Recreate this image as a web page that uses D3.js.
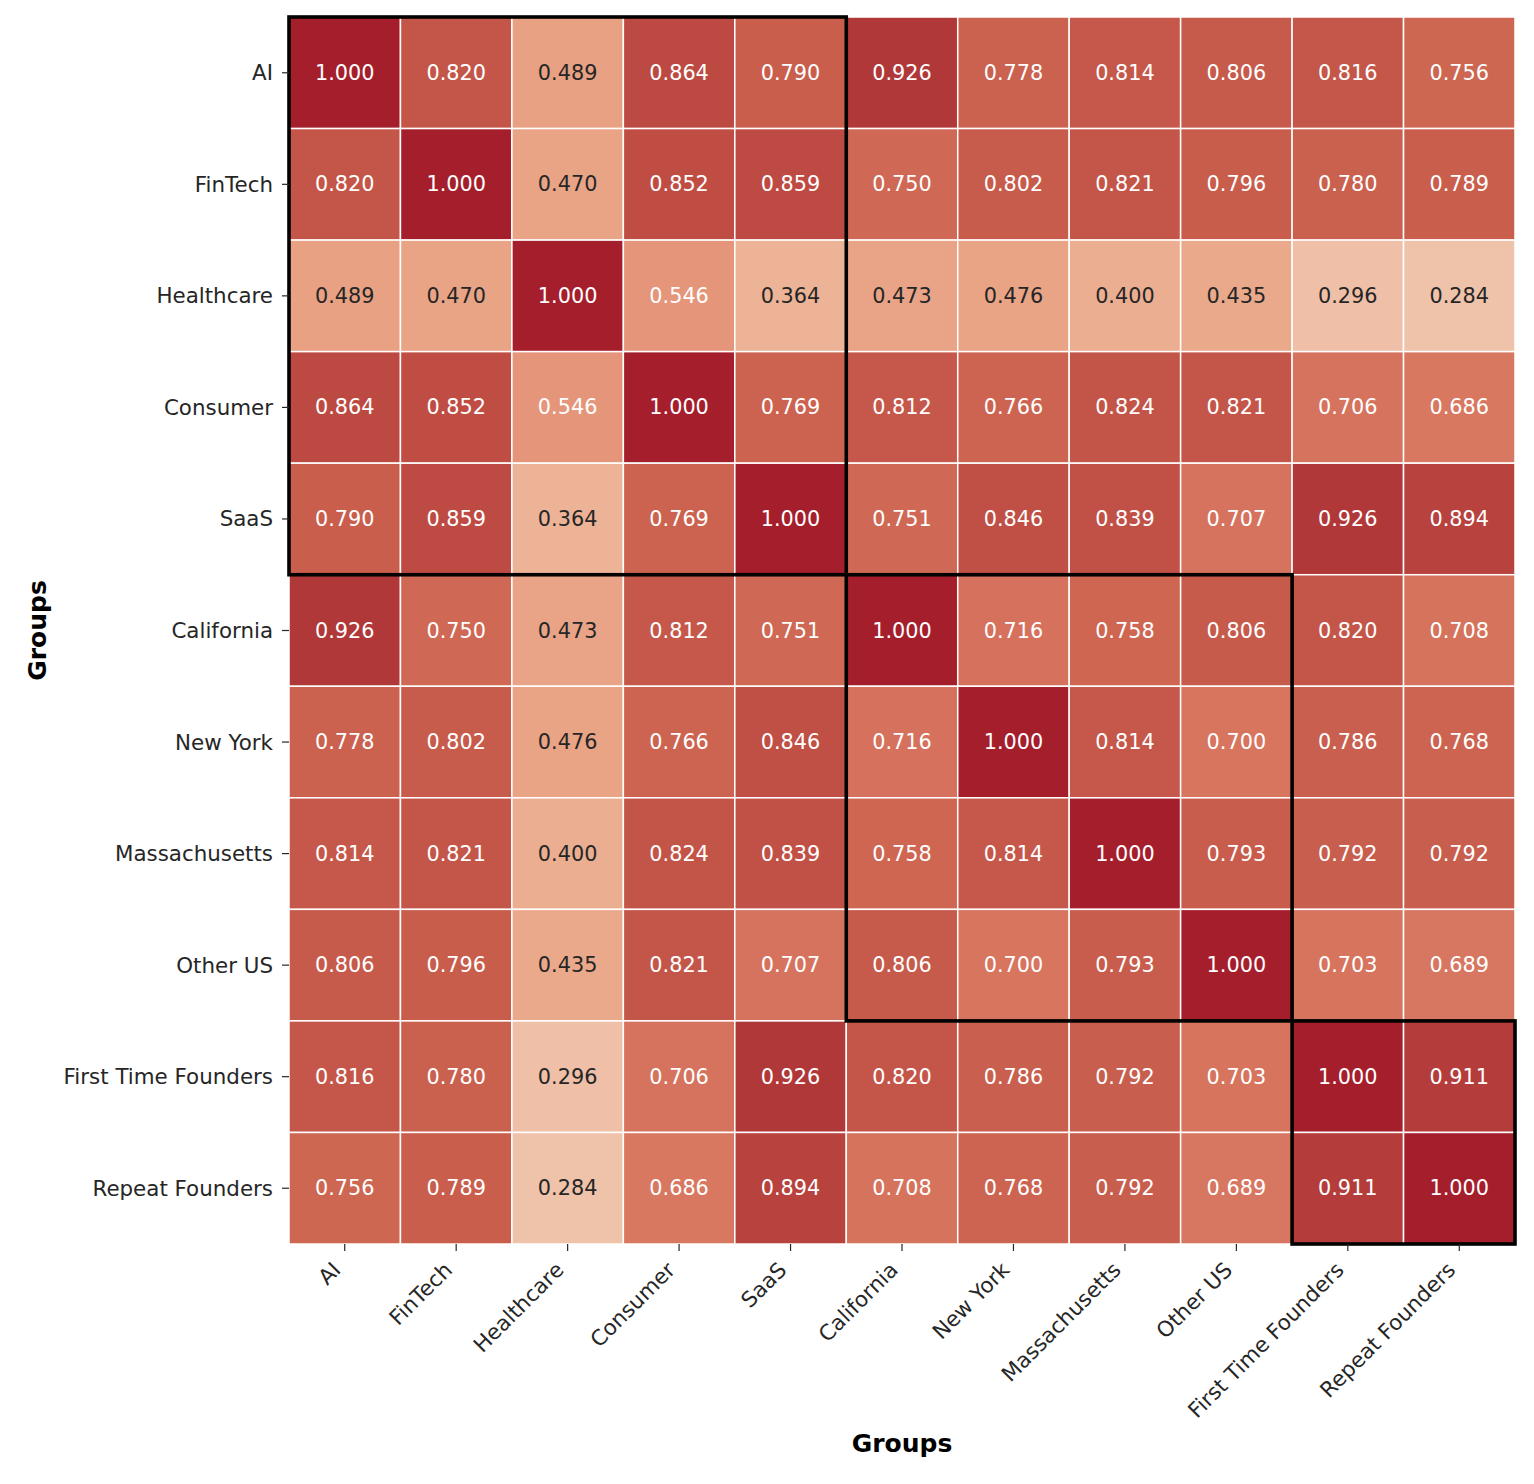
<!DOCTYPE html>
<html>
<head>
<meta charset="utf-8">
<script src="https://cdn.jsdelivr.net/npm/d3@7"></script>
<style>
  html, body { margin: 0; padding: 0; background: #ffffff; }
  svg { display: block; }
  text { font-family: "DejaVu Sans", sans-serif; }
</style>
</head>
<body>
<svg id="chart" width="1534" height="1484"></svg>
<script>
// ---------- data ----------
const groups = ["AI", "FinTech", "Healthcare", "Consumer", "SaaS", "California",
  "New York", "Massachusetts", "Other US", "First Time Founders", "Repeat Founders"];

const rowAI            = [1.000, 0.820, 0.489, 0.864, 0.790, 0.926, 0.778, 0.814, 0.806, 0.816, 0.756];
const rowFinTech       = [0.820, 1.000, 0.470, 0.852, 0.859, 0.750, 0.802, 0.821, 0.796, 0.780, 0.789];
const rowHealthcare    = [0.489, 0.470, 1.000, 0.546, 0.364, 0.473, 0.476, 0.400, 0.435, 0.296, 0.284];
const rowConsumer      = [0.864, 0.852, 0.546, 1.000, 0.769, 0.812, 0.766, 0.824, 0.821, 0.706, 0.686];
const rowSaaS          = [0.790, 0.859, 0.364, 0.769, 1.000, 0.751, 0.846, 0.839, 0.707, 0.926, 0.894];
const rowCalifornia    = [0.926, 0.750, 0.473, 0.812, 0.751, 1.000, 0.716, 0.758, 0.806, 0.820, 0.708];
const rowNewYork       = [0.778, 0.802, 0.476, 0.766, 0.846, 0.716, 1.000, 0.814, 0.700, 0.786, 0.768];
const rowMassachusetts = [0.814, 0.821, 0.400, 0.824, 0.839, 0.758, 0.814, 1.000, 0.793, 0.792, 0.792];
const rowOtherUS       = [0.806, 0.796, 0.435, 0.821, 0.707, 0.806, 0.700, 0.793, 1.000, 0.703, 0.689];
const rowFirstTime     = [0.816, 0.780, 0.296, 0.706, 0.926, 0.820, 0.786, 0.792, 0.703, 1.000, 0.911];
const rowRepeat        = [0.756, 0.789, 0.284, 0.686, 0.894, 0.708, 0.768, 0.792, 0.689, 0.911, 1.000];

const matrix = [rowAI, rowFinTech, rowHealthcare, rowConsumer, rowSaaS, rowCalifornia,
  rowNewYork, rowMassachusetts, rowOtherUS, rowFirstTime, rowRepeat];

// highlighted blocks: [first category, last category]
const blocks = [["AI", "SaaS"], ["California", "Other US"], ["First Time Founders", "Repeat Founders"]];

const axisTitleX = "Groups";
const axisTitleY = "Groups";

// ---------- colour scale (sampled from reference) ----------
const colorStops  = [0.284, 0.364, 0.435, 0.489, 0.546, 0.686, 0.716, 0.758, 0.806, 0.864, 0.911, 1.000];
const colorValues = ["#efc2aa", "#edb397", "#eba98c", "#e8a183", "#e5957a", "#d87861", "#d5715c",
                     "#ce6652", "#c65a4b", "#bd4a42", "#b43d3b", "#a51e2c"];

// ---------- layout ----------
const svg = d3.select("#chart");
const mLeft = 289, mTop = 17, mRight = 1515, mBottom = 1244;

const x = d3.scaleBand().domain(groups).range([mLeft, mRight]);
const y = d3.scaleBand().domain(groups).range([mTop, mBottom]);
const color = d3.scaleLinear().domain(colorStops).range(colorValues)
  .interpolate(d3.interpolateRgb).clamp(true);

function luminance(c) {
  const rgb = d3.rgb(c);
  const f = v => { v /= 255; return v <= 0.03928 ? v / 12.92 : Math.pow((v + 0.055) / 1.055, 2.4); };
  return 0.2126 * f(rgb.r) + 0.7152 * f(rgb.g) + 0.0722 * f(rgb.b);
}

const cells = [];
matrix.forEach((row, i) => row.forEach((v, j) => cells.push({ r: groups[i], c: groups[j], v })));

const g = svg.append("g");
g.selectAll("rect.cell").data(cells).enter().append("rect")
  .attr("class", "cell")
  .attr("x", d => x(d.c))
  .attr("y", d => y(d.r))
  .attr("width", x.bandwidth())
  .attr("height", y.bandwidth())
  .attr("fill", d => color(d.v))
  .attr("stroke", "#ffffff")
  .attr("stroke-width", 1.5);

g.selectAll("text.annot").data(cells).enter().append("text")
  .attr("class", "annot")
  .attr("x", d => x(d.c) + x.bandwidth() / 2)
  .attr("y", d => y(d.r) + y.bandwidth() / 2)
  .attr("text-anchor", "middle")
  .attr("dominant-baseline", "central")
  .attr("font-size", "20.8px")
  .attr("fill", d => luminance(color(d.v)) > 0.408 ? "#262626" : "#ffffff")
  .text(d => d.v.toFixed(3));

// block outlines
svg.selectAll("rect.block").data(blocks).enter().append("rect")
  .attr("class", "block")
  .attr("x", d => x(d[0]))
  .attr("y", d => y(d[0]))
  .attr("width", d => x(d[1]) + x.bandwidth() - x(d[0]))
  .attr("height", d => y(d[1]) + y.bandwidth() - y(d[0]))
  .attr("fill", "none")
  .attr("stroke", "#000000")
  .attr("stroke-width", 3.6);

// axes
const xAxis = d3.axisBottom(x).tickSize(7).tickPadding(8);
const yAxis = d3.axisLeft(y).tickSize(7).tickPadding(9);

const gx = svg.append("g").attr("transform", `translate(0,${mBottom})`).call(xAxis);
gx.select(".domain").remove();
gx.selectAll(".tick line").attr("stroke", "#262626").attr("stroke-width", 1.2);
gx.selectAll(".tick text")
  .attr("font-size", "21.4px")
  .attr("font-family", "DejaVu Sans, sans-serif")
  .attr("fill", "#262626")
  .attr("text-anchor", "end")
  .attr("dominant-baseline", "central")
  .attr("dy", null)
  .attr("y", 0)
  .attr("transform", "translate(-8,22) rotate(-45)");

const gy = svg.append("g").attr("transform", `translate(${mLeft},0)`).call(yAxis);
gy.select(".domain").remove();
gy.selectAll(".tick line").attr("stroke", "#262626").attr("stroke-width", 1.2);
gy.selectAll(".tick text")
  .attr("font-size", "21.4px")
  .attr("font-family", "DejaVu Sans, sans-serif")
  .attr("fill", "#262626")
  .attr("dy", null)
  .attr("dominant-baseline", "central");

// axis titles
svg.append("text")
  .attr("x", (mLeft + mRight) / 2)
  .attr("y", 1452)
  .attr("text-anchor", "middle")
  .attr("font-size", "25px")
  .attr("font-weight", "bold")
  .attr("fill", "#000")
  .text(axisTitleX);

svg.append("text")
  .attr("transform", `translate(46,${(mTop + mBottom) / 2}) rotate(-90)`)
  .attr("text-anchor", "middle")
  .attr("font-size", "25px")
  .attr("font-weight", "bold")
  .attr("fill", "#000")
  .text(axisTitleY);
</script>
</body>
</html>
